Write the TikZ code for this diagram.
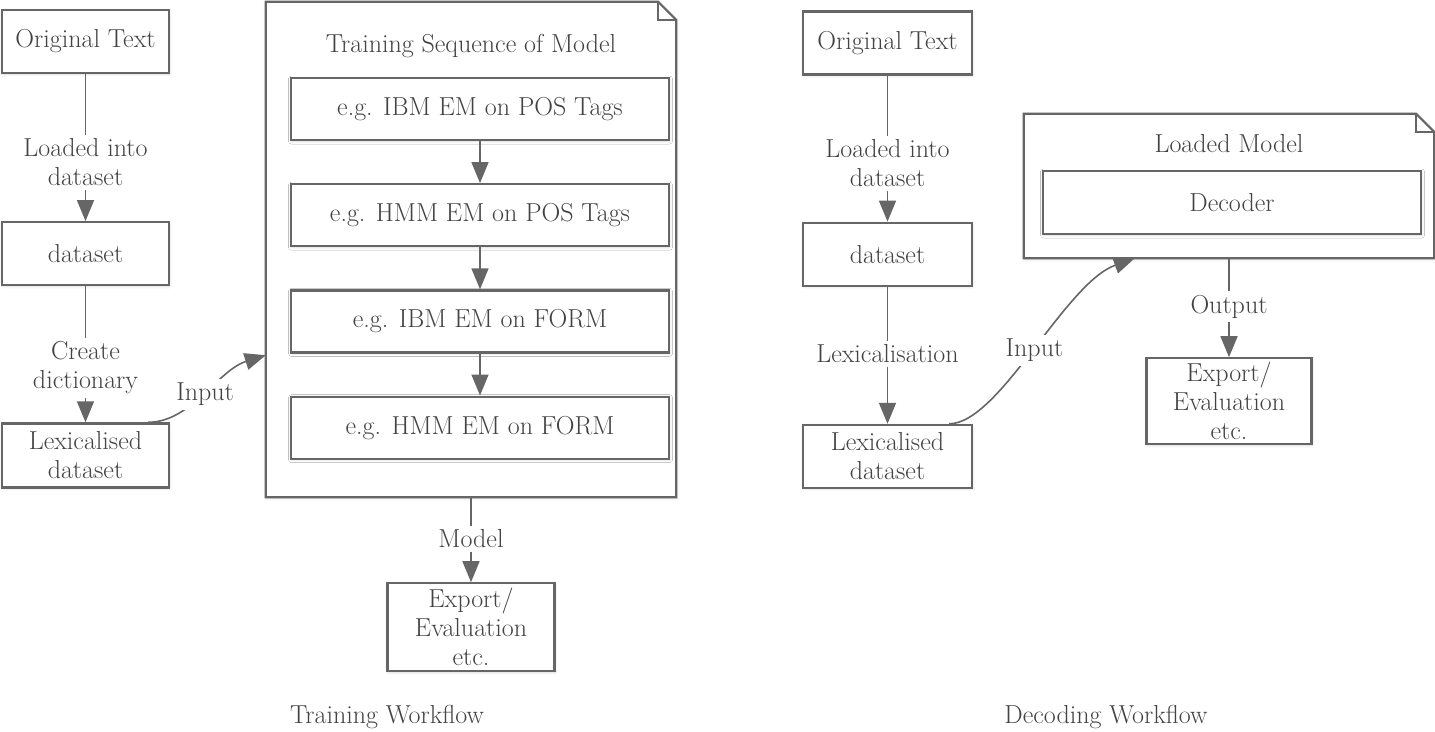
\documentclass[tikz,border=0pt]{standalone}
\usepackage{tikz}
\usetikzlibrary{positioning,arrows.meta,shadows.blur}
\definecolor{linegray}{RGB}{102,102,102}
\definecolor{textgray}{RGB}{66,66,66}
\tikzset{
  softshadow/.style={blur shadow={shadow xshift=0.5pt,shadow yshift=-1pt,shadow blur radius=3pt,shadow blur steps=8,shadow opacity=15}},
  box/.style={draw=linegray,line width=2.2pt,fill=white,align=center,inner sep=0pt,softshadow},
  frame/.style={draw=linegray,line width=2.2pt,fill=white,softshadow},
  fold/.style={draw=linegray,line width=2.2pt},
  flow/.style={draw=linegray,line width=1.6pt,-{Triangle[length=21pt,width=17pt]}},
  elabel/.style={fill=white,inner sep=4pt,align=center},
}

\begin{document}
\begin{tikzpicture}[x=1pt,y=-1pt,every node/.style={font=\fontsize{26}{29}\selectfont,text=textgray}]
		\useasboundingbox (0,0) rectangle (1435,731);
		
		\node[box,minimum width=167pt,minimum height=63pt] (orig1) at (85.5,41.5) {Original Text};
		\node[box,minimum width=167pt,minimum height=63pt,below=147pt of orig1] (data1) {dataset};
		\node[box,minimum width=167pt,minimum height=64pt,below=136pt of data1] (lex1) {Lexicalised\\dataset};
		\draw[flow] (orig1)--node[elabel,pos=0.6] {Loaded into\\dataset} (data1);
		\draw[flow] (data1)--node[elabel,pos=0.6] {Create\\dictionary} (lex1);
		
		\node[minimum width=410pt,minimum height=495pt] (train) at (471,249.5) {};
		\draw[frame] (train.south west)--(train.north west)--([xshift=-18pt]train.north east)--([yshift=-18pt]train.north east)--(train.south east)--cycle;
		\draw[fold] ([xshift=-18pt]train.north east)--([xshift=-18pt,yshift=-18pt]train.north east)--([yshift=-18pt]train.north east);
		\node (traintitle) at (471,46) {Training Sequence of Model};
		\node[box,minimum width=378pt,minimum height=62pt] (ibmpos) at (480,109) {e.g. IBM EM on POS Tags};
		\node[box,minimum width=378pt,minimum height=62pt,below=42pt of ibmpos] (hmmpos) {e.g. HMM EM on POS Tags};
		\node[box,minimum width=378pt,minimum height=62pt,below=42pt of hmmpos] (ibmform) {e.g. IBM EM on FORM};
		\node[box,minimum width=378pt,minimum height=62pt,below=42pt of ibmform] (hmmform) {e.g. HMM EM on FORM};
		\draw[flow] (ibmpos)--(hmmpos);
		\draw[flow] (hmmpos)--(ibmform);
		\draw[flow] (ibmform)--(hmmform);
		
		\draw[flow] ([xshift=-22pt]lex1.north east) .. controls +(43,0) and +(-48,15) .. ([yshift=142pt]train.south west) node[elabel,pos=0.5] {Input};
		
		\node[box,minimum width=167pt,minimum height=88pt,below=85pt of train] (exp1) {Export/\\Evaluation\\etc.};
		\draw[flow] (train)--node[elabel,pos=0.49] {Model} (exp1);
		
		\node[box,minimum width=169pt,minimum height=63pt] (orig2) at (887.5,43) {Original Text};
		\node[box,minimum width=169pt,minimum height=63pt,below=146pt of orig2] (data2) {dataset};
		\node[box,minimum width=169pt,minimum height=63pt,below=137pt of data2] (lex2) {Lexicalised\\dataset};
		\draw[flow] (orig2)--node[elabel,pos=0.6] {Loaded into\\dataset} (data2);
		\draw[flow] (data2)--node[elabel,pos=0.49] {Lexicalisation} (lex2);
		
		\node[minimum width=410pt,minimum height=144pt] (loaded) at (1229,186) {};
		\draw[frame] (loaded.south west)--(loaded.north west)--([xshift=-18pt]loaded.north east)--([yshift=-18pt]loaded.north east)--(loaded.south east)--cycle;
		\draw[fold] ([xshift=-18pt]loaded.north east)--([xshift=-18pt,yshift=-18pt]loaded.north east)--([yshift=-18pt]loaded.north east);
		\node (loadtitle) at (1229,144) {Loaded Model};
		\node[box,minimum width=378pt,minimum height=63pt] (decoder) at (1232,202.5) {Decoder};
		
		\draw[flow] ([xshift=-24pt]lex2.north east) .. controls +(50,0) and +(-70,25) .. ([xshift=111pt]loaded.south west) node[elabel,pos=0.5] {Input};
		
		\node[box,minimum width=165pt,minimum height=86pt,below=99pt of loaded] (exp2) {Export/\\Evaluation\\etc.};
		\draw[flow] (loaded)--node[elabel,pos=0.49] {Output} (exp2);
		
		\node (traincap) at (387,717) {Training Workflow};
		\node (deccap) at (1106,717) {Decoding Workflow};
	\end{tikzpicture}
\end{document}
